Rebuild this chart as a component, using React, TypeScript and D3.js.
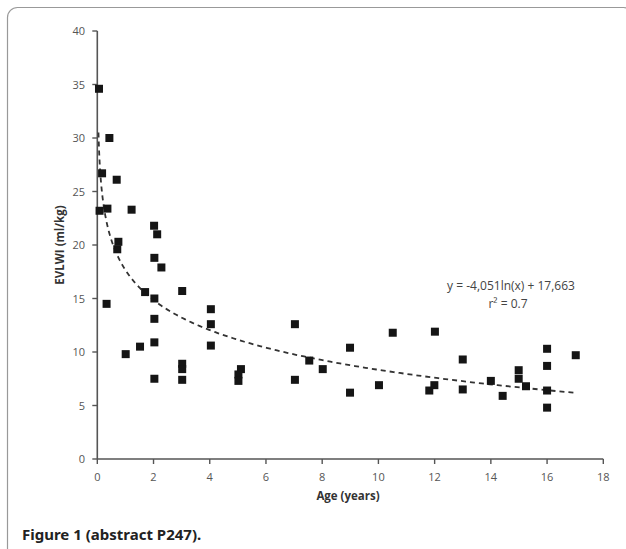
import React from "react";
import * as d3 from "d3";

const ages = [0.06, 0.43, 0.17, 0.69, 0.08, 0.36, 1.22, 2.02, 2.13, 0.75, 0.71, 2.03, 2.28, 1.7, 2.03, 0.33, 2.03, 2.03, 1.52, 1.01, 2.03, 3.02, 3.02, 3.02, 3.02, 4.04, 4.04, 4.04, 5.11, 5.02, 5.02, 7.03, 7.03, 7.54, 8.02, 8.99, 8.99, 10.02, 10.51, 12.01, 11.81, 11.99, 13.0, 13.0, 14.0, 14.42, 14.99, 14.99, 15.25, 16.0, 16.0, 16.0, 16.0, 17.02];
const evlwi = [34.6, 30.0, 26.7, 26.1, 23.2, 23.4, 23.3, 21.8, 21.0, 20.3, 19.6, 18.8, 17.9, 15.6, 15.0, 14.5, 13.1, 10.9, 10.5, 9.8, 7.5, 15.7, 8.9, 8.4, 7.4, 14.0, 12.6, 10.6, 8.4, 7.9, 7.3, 12.6, 7.4, 9.2, 8.4, 10.4, 6.2, 6.9, 11.8, 11.9, 6.4, 6.9, 9.3, 6.5, 7.3, 5.9, 8.3, 7.5, 6.8, 10.3, 8.7, 6.4, 4.8, 9.7];
const xTicks = [0, 2, 4, 6, 8, 10, 12, 14, 16, 18];
const yTicks = [0, 5, 10, 15, 20, 25, 30, 35, 40];
const fitA = -4.051;
const fitB = 17.663;
const fitRange = [0.042, 17.05];
const equationText = "y = -4,051ln(x) + 17,663";
const r2Text = "r\u00B2 = 0.7";

export default function App() {
  const W = 626, H = 549;
  const x = d3.scaleLinear().domain([0, 18]).range([97.3, 603.3]);
  const y = d3.scaleLinear().domain([0, 40]).range([459, 31]);
  const fitXs = d3.range(0, 301).map((i) => {
    const t = i / 300;
    return Math.exp(Math.log(fitRange[0]) + t * (Math.log(fitRange[1]) - Math.log(fitRange[0])));
  });
  const line = d3
    .line<number>()
    .x((d) => x(d))
    .y((d) => y(fitA * Math.log(d) + fitB));
  const font = "'Open Sans', 'Noto Sans', sans-serif";
  const axisColor = "#555";
  const s = 8;
  return (
    <svg width={W} height={H} style={{ position: "absolute", left: 0, top: 0, background: "#fff" }}>
      <rect x={7.5} y={7.5} width={626} height={580} rx={10} ry={10} fill="none" stroke="#999" strokeWidth={1.2} />
      {/* y axis */}
      <line x1={x(0)} x2={x(0)} y1={y(40)} y2={y(0)} stroke={axisColor} strokeWidth={1.6} />
      {yTicks.map((t) => (
        <g key={"y" + t}>
          <line x1={x(0) - 5} x2={x(0)} y1={y(t)} y2={y(t)} stroke={axisColor} strokeWidth={1.4} />
          <text x={85} y={y(t) + 4} textAnchor="end" fontFamily={font} fontSize={11} fill="#555">
            {t}
          </text>
        </g>
      ))}
      {/* x axis */}
      <line x1={x(0)} x2={x(18)} y1={y(0)} y2={y(0)} stroke={axisColor} strokeWidth={1.6} />
      {xTicks.map((t) => (
        <g key={"x" + t}>
          <line x1={x(t)} x2={x(t)} y1={y(0)} y2={y(0) + 5} stroke={axisColor} strokeWidth={1.4} />
          <text x={x(t)} y={481} textAnchor="middle" fontFamily={font} fontSize={11} fill="#555">
            {t}
          </text>
        </g>
      ))}
      <text x={348} y={500} textAnchor="middle" fontFamily={font} fontSize={11.5} fontWeight="bold" fill="#333">
        Age (years)
      </text>
      <text
        transform={`translate(64,245) rotate(-90)`}
        textAnchor="middle"
        fontFamily={font}
        fontSize={11.5}
        fontWeight="bold"
        fill="#333"
      >
        EVLWI (ml/kg)
      </text>
      {/* fit line */}
      <path d={line(fitXs) || ""} fill="none" stroke="#333" strokeWidth={1.8} strokeDasharray="5,4" />
      {/* points */}
      {ages.map((a, i) => (
        <rect key={i} x={x(a) - s / 2} y={y(evlwi[i]) - s / 2} width={s} height={s} fill="#151515" />
      ))}
      <text x={511} y={290} textAnchor="middle" fontFamily={font} fontSize={12} fill="#444">
        {equationText}
      </text>
      <text x={508} y={308} textAnchor="middle" fontFamily={font} fontSize={12} fill="#444">
        {r2Text}
      </text>
      <text x={22} y={540} fontFamily="'Noto Sans', sans-serif" fontSize={15} fontWeight="bold" fill="#222">
        Figure 1 (abstract P247).
      </text>
    </svg>
  );
}
